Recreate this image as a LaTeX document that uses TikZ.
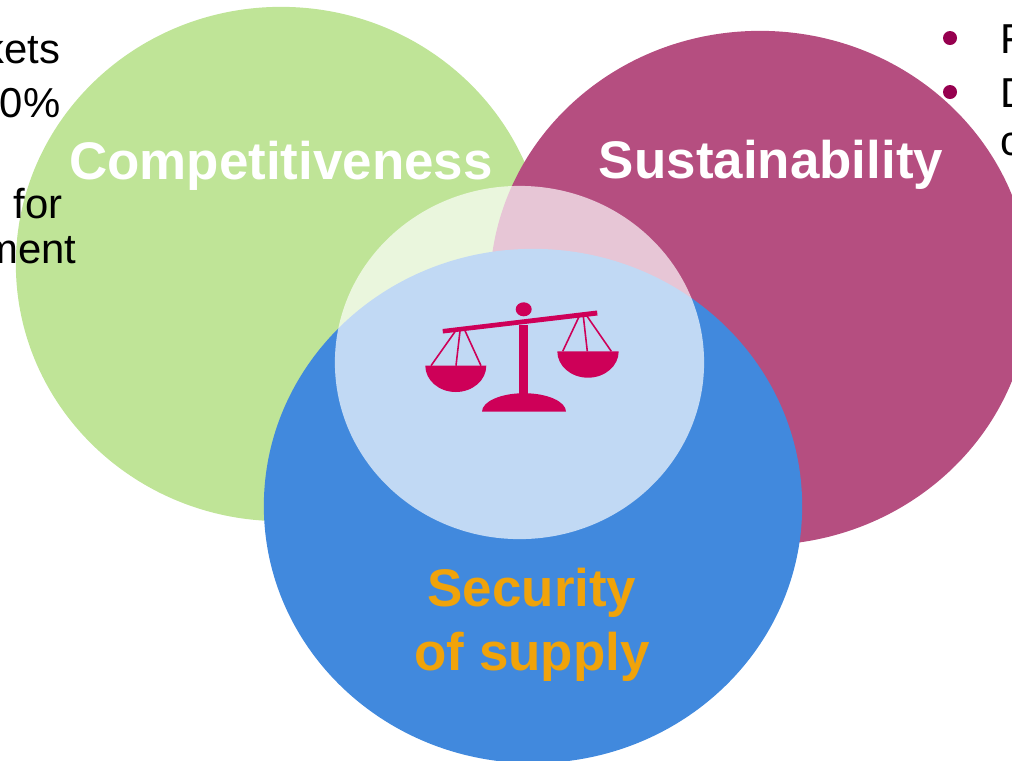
\documentclass[tikz,border=0pt]{standalone}
\usepackage{fontspec}
\usepackage{xcolor}
\usetikzlibrary{shapes.geometric}
\setmainfont{Liberation Sans}

\definecolor{compgreen}{HTML}{BFE497}
\definecolor{sustmagenta}{HTML}{B54E80}
\definecolor{supplyblue}{HTML}{4189DD}
\definecolor{scalered}{HTML}{CE0058}
\definecolor{bulletred}{HTML}{96004F}
\definecolor{supplyorange}{HTML}{F0A30A}

\tikzset{
    pillar/.style={ellipse, inner sep=0pt, minimum width=#1, minimum height=5.14cm},
    title/.style={font=\fontsize{15.05}{16}\selectfont\bfseries, anchor=base, inner sep=0pt},
    body/.style={font=\fontsize{11.9}{14}\selectfont, inner sep=0pt},
    bullet/.style={circle, fill=bulletred, inner sep=0pt, minimum size=0.14cm},
    string/.style={draw=scalered, line width=0.45pt}
}

\begin{document}
\begin{tikzpicture}[x=0.01cm, y=-0.01cm]
    \useasboundingbox (0, 0) rectangle (1012, 760);
    \clip (0, 0) rectangle (1012, 760);

    \node[pillar=5.30cm, fill=compgreen] (competitiveness) at (281, 264) {};
    \node[pillar=5.40cm, fill=sustmagenta] (sustainability) at (760, 288) {};
    \node[pillar=5.38cm, fill=supplyblue] (supply) at (533, 506) {};
    \node[ellipse, inner sep=0pt, minimum width=3.69cm, minimum height=3.53cm, fill=white, fill opacity=0.68] (centre) at (519.5, 362.5) {};

    % left text
    \node[body, anchor=base east] (kets) at (61, 63) {kets};
    \node[body, anchor=base east] (percent) at (61, 117) {0\%};
    \node[body, anchor=base east] (for) at (63, 218) {for};
    \node[body, anchor=base east] (ment) at (77, 263) {ment};

    % right text
    \node[bullet] (bulletF) at (950, 38) {};
    \node[bullet] (bulletD) at (950, 92) {};
    \node[body, anchor=base west] (textF) at (1000, 53) {F};
    \node[body, anchor=base west] (textD) at (1000, 107) {D};
    \node[body, anchor=base west] (textC) at (1000, 155) {c};

    % titles
    \node[title, text=white] (compLabel) at (281, 179) {Competitiveness};
    \node[title, text=white] (sustLabel) at (771, 178) {Sustainability};
    \node[title, text=supplyorange] (secLabel) at (532, 606) {Security};
    \node[title, text=supplyorange] (ofLabel) at (532, 670) {of supply};

    % scales
    \fill[scalered] (442.5, 329) -- (597, 310.5) -- (597.5, 315.5) -- (443, 333.5) -- cycle;
    \fill[scalered] (523.7, 309.3) ellipse (8 and 7);
    \fill[scalered] (519, 325) rectangle (528, 395);
    \fill[scalered] (482, 411.7) arc[start angle=180, end angle=0, x radius=42, y radius=-18.5] -- cycle;
    \fill[scalered] (425.3, 365.7) arc[start angle=180, end angle=360, x radius=30.5, y radius=-26.3] -- cycle;
    \fill[scalered] (557.3, 351.3) arc[start angle=180, end angle=360, x radius=30.7, y radius=-26.4] -- cycle;
    \draw[string] (455, 331.7) -- (431, 365.7);
    \draw[string] (460, 331) -- (456, 365.7);
    \draw[string] (465, 330.7) -- (481, 365.7);
    \draw[string] (579, 316.7) -- (562.7, 351.3);
    \draw[string] (583.3, 316) -- (587.3, 351.3);
    \draw[string] (586.7, 315.7) -- (611.3, 351.3);
\end{tikzpicture}
\end{document}
